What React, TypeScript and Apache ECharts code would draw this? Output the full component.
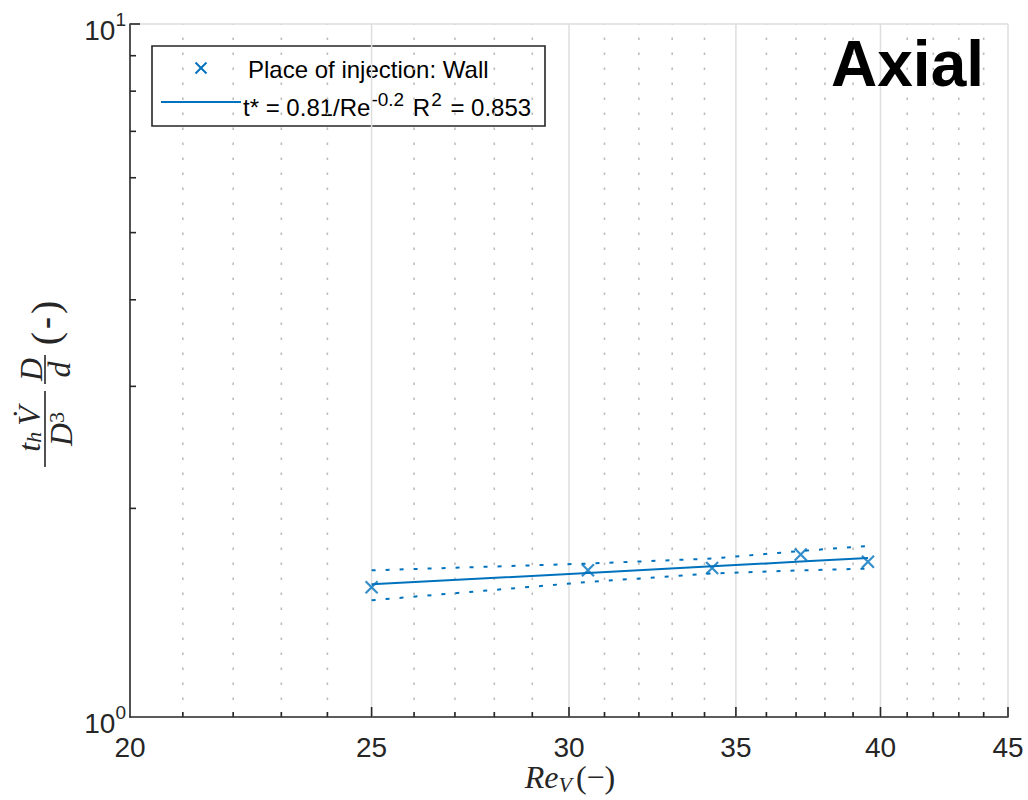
import React, { useEffect, useRef } from "react";
import * as echarts from "echarts";

// ---- data ----
const reynolds = [25.0, 30.53, 34.24, 37.16, 39.54];
const measured = [1.539, 1.628, 1.641, 1.716, 1.675];
const fitCurve = [1.554, 1.614, 1.65, 1.676, 1.696];
const upperBound = [1.628, 1.665, 1.693, 1.736, 1.765];
const lowerBound = [1.474, 1.566, 1.611, 1.628, 1.637];

const xRange = [20, 45];
const yRange = [1, 10];
const xMajorTicks = [20, 25, 30, 35, 40, 45];
const xMinorTicks = [21, 22, 23, 24, 26, 27, 28, 29, 31, 32, 33, 34, 36, 37, 38, 39, 41, 42, 43, 44];
const yMajorTicks = [1, 10];
const yMajorExponents = ["0", "1"];
const yMinorTicks = [2, 3, 4, 5, 6, 7, 8, 9];

const legendMarkerLabel = "Place of injection: Wall";
const legendFitLabel = "{m|t* = 0.81/Re}{s|-0.2}{m| R}{s|2}{m| = 0.853}";
const panelTitle = "Axial";

const BLUE = "#0072BD";
const AXIS = "#262626";
const GRID = "#dedede";
const MINOR = "#bdbdbd";
const SANS = '"Liberation Sans", Arial, Helvetica, sans-serif';
const SERIF = '"Liberation Serif", "Times New Roman", serif';

export default function App() {
  const ref = useRef<HTMLDivElement>(null);

  useEffect(() => {
    if (!ref.current) return;
    const chart = echarts.init(ref.current, undefined, { renderer: "svg" });

    const zip = (a: number[], b: number[]) => a.map((v, i) => [v, b[i]]);

    const serifI = (size: number, extra: any = {}) => ({
      fontSize: size,
      fontStyle: "italic",
      fontFamily: SERIF,
      fill: AXIS,
      ...extra,
    });

    const option: any = {
      animation: false,
      backgroundColor: "#ffffff",
      grid: { left: 130, top: 24, width: 878, height: 693 },
      xAxis: {
        type: "log",
        logBase: 10,
        min: xRange[0],
        max: xRange[1],
        axisLine: { show: true, onZero: false, lineStyle: { color: AXIS, width: 1.6 } },
        axisTick: { show: false },
        axisLabel: { show: false },
        splitLine: { show: false },
      },
      yAxis: {
        type: "log",
        logBase: 10,
        min: yRange[0],
        max: yRange[1],
        axisLine: { show: true, onZero: false, lineStyle: { color: AXIS, width: 1.6 } },
        axisTick: { show: false },
        axisLabel: { show: false },
        splitLine: { show: false },
      },
      series: [
        // x major grid, ticks, labels
        {
          type: "custom",
          z: 1,
          silent: true,
          clip: false,
          data: xMajorTicks.map((v) => [v, yRange[0]]),
          renderItem: (params: any, api: any) => {
            const v = api.value(0);
            const b = api.coord([v, yRange[0]]);
            const t = api.coord([v, yRange[1]]);
            const children: any[] = [];
            if (v !== xRange[0]) {
              children.push({
                type: "line",
                shape: { x1: b[0], y1: b[1], x2: t[0], y2: t[1] },
                style: { stroke: GRID, lineWidth: 1.5 },
              });
              children.push({
                type: "line",
                shape: { x1: b[0], y1: b[1], x2: b[0], y2: b[1] - 10 },
                style: { stroke: AXIS, lineWidth: 1.6 },
              });
            }
            children.push({
              type: "text",
              x: b[0],
              y: b[1] + 30,
              style: {
                text: String(v),
                fill: AXIS,
                fontSize: 28,
                fontFamily: SANS,
                align: "center",
                verticalAlign: "middle",
              },
            });
            return { type: "group", children };
          },
        },
        // x minor dotted grid + ticks
        {
          type: "custom",
          z: 1,
          silent: true,
          clip: false,
          data: xMinorTicks.map((v) => [v, yRange[0]]),
          renderItem: (params: any, api: any) => {
            const v = api.value(0);
            const b = api.coord([v, yRange[0]]);
            const t = api.coord([v, yRange[1]]);
            return {
              type: "group",
              children: [
                {
                  type: "line",
                  shape: { x1: b[0], y1: b[1] - 2, x2: t[0], y2: t[1] },
                  style: { stroke: MINOR, lineWidth: 1.6, lineDash: [2.5, 12.5] },
                },
                {
                  type: "line",
                  shape: { x1: b[0], y1: b[1], x2: b[0], y2: b[1] - 5 },
                  style: { stroke: AXIS, lineWidth: 1.6 },
                },
              ],
            };
          },
        },
        // y major grid, ticks, labels
        {
          type: "custom",
          z: 1,
          silent: true,
          clip: false,
          data: yMajorTicks.map((v, i) => [xRange[0], v, i]),
          renderItem: (params: any, api: any) => {
            const v = api.value(1);
            const idx = api.value(2);
            const l = api.coord([xRange[0], v]);
            const r = api.coord([xRange[1], v]);
            const children: any[] = [];
            if (v !== yRange[0]) {
              children.push({
                type: "line",
                shape: { x1: l[0], y1: l[1], x2: r[0], y2: r[1] },
                style: { stroke: GRID, lineWidth: 1.5 },
              });
              children.push({
                type: "line",
                shape: { x1: l[0], y1: l[1], x2: l[0] + 10, y2: l[1] },
                style: { stroke: AXIS, lineWidth: 1.6 },
              });
            }
            children.push({
              type: "text",
              x: l[0] - 4,
              y: l[1] + 6,
              style: {
                text: "{m|10}{s|" + yMajorExponents[idx] + "}",
                align: "right",
                verticalAlign: "middle",
                rich: {
                  m: { fontSize: 28, lineHeight: 40, fill: AXIS, fontFamily: SANS },
                  s: { fontSize: 19, lineHeight: 19, verticalAlign: "top", fill: AXIS, fontFamily: SANS },
                },
              },
            });
            return { type: "group", children };
          },
        },
        // y minor ticks
        {
          type: "custom",
          z: 1,
          silent: true,
          clip: false,
          data: yMinorTicks.map((v) => [xRange[0], v]),
          renderItem: (params: any, api: any) => {
            const v = api.value(1);
            const l = api.coord([xRange[0], v]);
            return {
              type: "line",
              shape: { x1: l[0], y1: l[1], x2: l[0] + 6, y2: l[1] },
              style: { stroke: AXIS, lineWidth: 1.6 },
            };
          },
        },
        {
          name: "upper",
          type: "line",
          z: 3,
          data: zip(reynolds, upperBound),
          symbol: "none",
          lineStyle: { color: BLUE, width: 2, type: [4, 10] },
        },
        {
          name: "lower",
          type: "line",
          z: 3,
          data: zip(reynolds, lowerBound),
          symbol: "none",
          lineStyle: { color: BLUE, width: 2, type: [4, 10] },
        },
        {
          name: "fit",
          type: "line",
          z: 4,
          data: zip(reynolds, fitCurve),
          symbol: "none",
          lineStyle: { color: BLUE, width: 2 },
        },
        {
          name: "measured",
          type: "scatter",
          z: 5,
          data: zip(reynolds, measured),
          symbol: "path://M0,0L12,12M0,12L12,0",
          symbolSize: 12,
          itemStyle: { color: BLUE, borderColor: BLUE, borderWidth: 2.2 },
        },
      ],
      graphic: [
        // legend box
        {
          type: "group",
          z: 100,
          children: [
            {
              type: "rect",
              shape: { x: 152, y: 46, width: 393, height: 80 },
              style: { fill: "#ffffff", stroke: AXIS, lineWidth: 1.6 },
            },
            {
              type: "line",
              shape: { x1: 195.5, y1: 62.5, x2: 206.5, y2: 73.5 },
              style: { stroke: BLUE, lineWidth: 2 },
            },
            {
              type: "line",
              shape: { x1: 195.5, y1: 73.5, x2: 206.5, y2: 62.5 },
              style: { stroke: BLUE, lineWidth: 2 },
            },
            {
              type: "text",
              x: 248,
              y: 69,
              style: {
                text: legendMarkerLabel,
                fill: "#000000",
                fontSize: 24,
                fontFamily: SANS,
                align: "left",
                verticalAlign: "middle",
              },
            },
            {
              type: "line",
              shape: { x1: 161, y1: 102, x2: 241, y2: 102 },
              style: { stroke: BLUE, lineWidth: 2 },
            },
            {
              type: "text",
              x: 243,
              y: 107,
              style: {
                text: legendFitLabel,
                align: "left",
                verticalAlign: "middle",
                rich: {
                  m: { fontSize: 24, lineHeight: 34, fill: "#000000", fontFamily: SANS },
                  s: {
                    fontSize: 19,
                    lineHeight: 19,
                    verticalAlign: "top",
                    fill: "#000000",
                    fontFamily: SANS,
                    padding: [0, 2, 0, 1],
                  },
                },
              },
            },
          ],
        },
        // panel title
        {
          type: "text",
          z: 100,
          x: 984,
          y: 64,
          style: {
            text: panelTitle,
            fill: "#000000",
            fontSize: 64,
            fontWeight: "bold",
            fontFamily: SANS,
            align: "right",
            verticalAlign: "middle",
          },
        },
        // x axis label
        {
          type: "text",
          z: 100,
          x: 570,
          y: 777,
          style: {
            text: "{i|Re}{sb|V}{n|(\u2212)}",
            align: "center",
            verticalAlign: "middle",
            rich: {
              i: serifI(32, { lineHeight: 36 }),
              sb: serifI(22, { lineHeight: 22, verticalAlign: "bottom" }),
              n: { fontSize: 32, lineHeight: 36, fontFamily: SERIF, fill: AXIS, padding: [0, 0, 0, 4] },
            },
          },
        },
        // y axis label (rotated)
        {
          type: "group",
          z: 100,
          x: 45,
          y: 385,
          rotation: Math.PI / 2,
          children: [
            {
              type: "line",
              shape: { x1: -82, y1: 0, x2: -6, y2: 0 },
              style: { stroke: AXIS, lineWidth: 1.6 },
            },
            {
              type: "text",
              x: -44,
              y: -16,
              style: {
                text: "{i|t}{sb|h}{i|V\u0307}",
                align: "center",
                verticalAlign: "middle",
                rich: {
                  i: serifI(32, { lineHeight: 30 }),
                  sb: serifI(22, { lineHeight: 22, verticalAlign: "bottom", padding: [0, 6, 0, 0] }),
                },
              },
            },
            {
              type: "text",
              x: -44,
              y: 16,
              style: {
                text: "{i|D}{sp|3}",
                align: "center",
                verticalAlign: "middle",
                rich: {
                  i: serifI(32, { lineHeight: 32 }),
                  sp: { fontSize: 22, lineHeight: 22, verticalAlign: "top", fontFamily: SERIF, fill: AXIS },
                },
              },
            },
            {
              type: "line",
              shape: { x1: 1, y1: 0, x2: 30, y2: 0 },
              style: { stroke: AXIS, lineWidth: 1.6 },
            },
            {
              type: "text",
              x: 15.5,
              y: -14,
              style: {
                text: "D",
                ...serifI(32),
                align: "center",
                verticalAlign: "middle",
              },
            },
            {
              type: "text",
              x: 15.5,
              y: 14,
              style: {
                text: "d",
                ...serifI(32),
                align: "center",
                verticalAlign: "middle",
              },
            },
            {
              type: "text",
              x: 62,
              y: 0,
              style: {
                text: "{p|(}{b|-}{p|)}",
                align: "center",
                verticalAlign: "middle",
                rich: {
                  p: { fontSize: 40, lineHeight: 44, fontFamily: SERIF, fill: AXIS },
                  b: { fontSize: 36, lineHeight: 44, fontWeight: "bold", fontFamily: SERIF, fill: AXIS, padding: [0, 3, 0, 3] },
                },
              },
            },
          ],
        },
      ],
    };

    chart.setOption(option);
    return () => chart.dispose();
  }, []);

  return (
    <div
      ref={ref}
      style={{ position: "fixed", left: 0, top: 0, width: 1028, height: 800, background: "#ffffff" }}
    />
  );
}
